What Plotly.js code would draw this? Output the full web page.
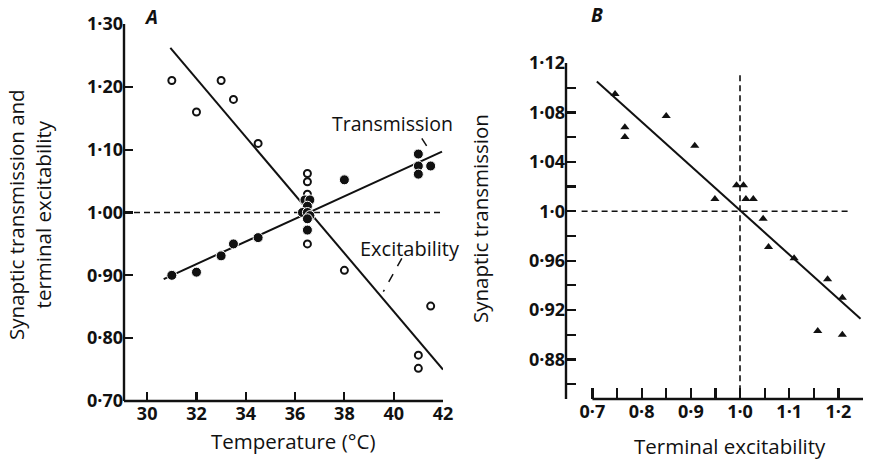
<!DOCTYPE html>
<html><head><meta charset="utf-8">
<script src="https://cdn.plot.ly/plotly-3.0.1.min.js"></script>
<style>html,body{margin:0;padding:0;background:#fff}</style>
</head><body><div id="chart" style="width:871px;height:462px"></div>
<script>
// Panel A: excitability (open circles)
const excTemp = [31, 32, 33, 33.5, 34.5, 36.5, 36.5, 36.5, 36.5, 38, 41.5, 41, 41];
const excVal  = [1.21, 1.16, 1.21, 1.18, 1.11, 1.062, 1.049, 1.029, 0.950, 0.908, 0.851, 0.773, 0.752];
// Panel A: transmission (filled circles)
const transTemp = [31, 32, 33, 33.5, 34.5, 36.5, 36.4, 36.6, 36.5, 36.3, 36.5, 36.6, 36.5, 38, 41, 41, 41, 41.5];
const transVal  = [0.90, 0.905, 0.931, 0.950, 0.960, 0.972, 1.02, 1.02, 1.01, 1.00, 1.00, 0.995, 0.99, 1.052, 1.093, 1.074, 1.061, 1.074];
// Panel A fitted lines
const excFitX = [30.94, 42.0], excFitY = [1.262, 0.750];
const transFitX = [30.67, 41.96], transFitY = [0.894, 1.097];
const refAX = [29.06, 42], refAY = [1.0, 1.0];
// Panel B
const bX = [0.746, 0.766, 0.766, 0.850, 0.908, 0.949, 0.993, 1.007, 1.012, 1.027, 1.047, 1.058, 1.110, 1.178, 1.208, 1.158, 1.208];
const bY = [1.095, 1.068, 1.060, 1.077, 1.053, 1.010, 1.021, 1.021, 1.010, 1.010, 0.994, 0.971, 0.962, 0.945, 0.930, 0.903, 0.900];
const bFitX = [0.709, 1.245], bFitY = [1.105, 0.913];
const refBHX = [0.678, 1.224], refBHY = [1.0, 1.0];
const refBVX = [1.0, 1.0], refBVY = [1.110, 0.848];
// Tick labels
const aXTicks = [30, 32, 34, 36, 38, 40, 42];
const aXLabels = ['30', '32', '34', '36', '38', '40', '42'];
const aYTicks = [0.70, 0.80, 0.90, 1.00, 1.10, 1.20, 1.30];
const aYLabels = ['0·70', '0·80', '0·90', '1·00', '1·10', '1·20', '1·30'];
const bXTicks = [0.7, 0.75, 0.8, 0.85, 0.9, 0.95, 1.0, 1.05, 1.1, 1.15, 1.2, 1.25];
const bXLabels = ['0·7', '', '0·8', '', '0·9', '', '1·0', '', '1·1', '', '1·2', ''];
const bYTicks = [0.86, 0.88, 0.90, 0.92, 0.94, 0.96, 0.98, 1.00, 1.02, 1.04, 1.06, 1.08, 1.10, 1.12];
const bYLabels = ['', '0·88', '', '0·92', '', '0·96', '', '1·0', '', '1·04', '', '1·08', '', '1·12'];

const FONT = 'Open Sans, Lato, sans-serif';
const K = '#111';
const dash = {color: K, width: 1.6, dash: '6px,4px'};
const tf = {family: FONT, size: 18, color: K, weight: 'bold'};
const lf = {family: FONT, size: 20.5, color: K};

const traces = [
  {x: refAX, y: refAY, mode: 'lines', line: dash, xaxis: 'x', yaxis: 'y'},
  {x: excFitX, y: excFitY, mode: 'lines', line: {color: K, width: 2}, xaxis: 'x', yaxis: 'y'},
  {x: transFitX, y: transFitY, mode: 'lines', line: {color: K, width: 2}, xaxis: 'x', yaxis: 'y'},
  {x: excTemp, y: excVal, mode: 'markers', xaxis: 'x', yaxis: 'y',
   marker: {symbol: 'circle', size: 7, color: '#fff', line: {color: K, width: 2}}},
  {x: transTemp, y: transVal, mode: 'markers', xaxis: 'x', yaxis: 'y',
   marker: {symbol: 'circle', size: 10, color: K, line: {color: '#fff', width: 1}}},
  {x: refBHX, y: refBHY, mode: 'lines', line: dash, xaxis: 'x2', yaxis: 'y2'},
  {x: refBVX, y: refBVY, mode: 'lines', line: dash, xaxis: 'x2', yaxis: 'y2'},
  {x: bFitX, y: bFitY, mode: 'lines', line: {color: K, width: 2}, xaxis: 'x2', yaxis: 'y2'},
  {x: bX, y: bY, mode: 'markers', xaxis: 'x2', yaxis: 'y2',
   marker: {symbol: 'triangle-up', size: 8, color: K, line: {width: 0}}}
];

const axBase = {showgrid: false, zeroline: false, showline: false, ticks: 'inside', tickcolor: K, tickwidth: 2.2,
  tickfont: tf, fixedrange: true, tickmode: 'array'};

const axLine = {color: K, width: 2.4};
const layout = {
  width: 871, height: 462, margin: {l: 0, r: 0, t: 0, b: 0},
  paper_bgcolor: '#fff', plot_bgcolor: 'rgba(0,0,0,0)', showlegend: false,
  xaxis: Object.assign({}, axBase, {domain: [124/871, 443/871], range: [29.06, 42],
    tickvals: aXTicks, ticktext: aXLabels, ticklen: 9, anchor: 'y'}),
  yaxis: Object.assign({}, axBase, {domain: [61/462, 438/462], range: [0.70, 1.30],
    tickvals: aYTicks, ticktext: aYLabels, ticklen: 9, ticklabelstandoff: 0, anchor: 'x'}),
  xaxis2: Object.assign({}, axBase, {domain: [566/871, 863/871], range: [0.6463, 1.25],
    tickvals: bXTicks, ticktext: bXLabels, ticklen: 11, anchor: 'y2'}),
  yaxis2: Object.assign({}, axBase, {domain: [63/462, 399/462], range: [0.848, 1.12],
    tickvals: bYTicks, ticktext: bYLabels, ticklen: 10, ticklabelstandoff: 0, anchor: 'x2'}),
  shapes: [
    // axis lines
    {type: 'line', xref: 'x domain', yref: 'y domain', x0: 0, x1: 1, y0: 0, y1: 0, line: axLine},
    {type: 'line', xref: 'x domain', yref: 'y domain', x0: 0, x1: 0, y0: 0, y1: 1, line: axLine},
    {type: 'line', xref: 'x2 domain', yref: 'y2 domain', x0: 0, x1: 0, y0: 0, y1: 1, line: axLine},
    {type: 'line', xref: 'x2', yref: 'y2 domain', x0: 0.7, x1: 1.25, y0: 0, y1: 0, line: axLine},
    // pointers
    {type: 'line', xref: 'x', yref: 'y', x0: 41.14, y0: 1.118, x1: 41.48, y1: 1.097, line: {color: K, width: 1.5, dash: 'dash'}},
    {type: 'line', xref: 'x', yref: 'y', x0: 40.33, y0: 0.927, x1: 39.58, y1: 0.874, line: {color: K, width: 1.5, dash: 'dash'}}
  ],
  annotations: [
    {text: 'Transmission', x: 39.96, y: 1.142, xref: 'x', yref: 'y', showarrow: false, xanchor: 'center', yanchor: 'middle', font: {family: FONT, size: 19.5, color: K}},
    {text: 'Excitability', x: 40.65, y: 0.943, xref: 'x', yref: 'y', showarrow: false, xanchor: 'center', yanchor: 'middle', font: {family: FONT, size: 20, color: K}},
    {text: '<b><i>A</i></b>', x: 151/871, y: 1 - 17/462, xref: 'paper', yref: 'paper', showarrow: false, xanchor: 'center', yanchor: 'middle', font: {family: FONT, size: 19, color: K}},
    {text: '<b><i>B</i></b>', x: 597/871, y: 1 - 15/462, xref: 'paper', yref: 'paper', showarrow: false, xanchor: 'center', yanchor: 'middle', font: {family: FONT, size: 19, color: K}},
    {text: 'Synaptic transmission and<br>terminal excitability', x: 29/871, y: 1 - 215/462, xref: 'paper', yref: 'paper',
     showarrow: false, textangle: -90, xanchor: 'center', yanchor: 'middle', font: lf},
    {text: 'Synaptic transmission', x: 480/871, y: 1 - 218/462, xref: 'paper', yref: 'paper',
     showarrow: false, textangle: -90, xanchor: 'center', yanchor: 'middle', font: lf},
    {text: 'Temperature (°C)', x: 293/871, y: 1 - 441/462, xref: 'paper', yref: 'paper', showarrow: false, xanchor: 'center', yanchor: 'middle', font: lf},
    {text: 'Terminal excitability', x: 730/871, y: 1 - 446/462, xref: 'paper', yref: 'paper', showarrow: false, xanchor: 'center', yanchor: 'middle', font: lf}
  ]
};
Plotly.newPlot('chart', traces, layout, {displayModeBar: false, staticPlot: true});
</script></body></html>
